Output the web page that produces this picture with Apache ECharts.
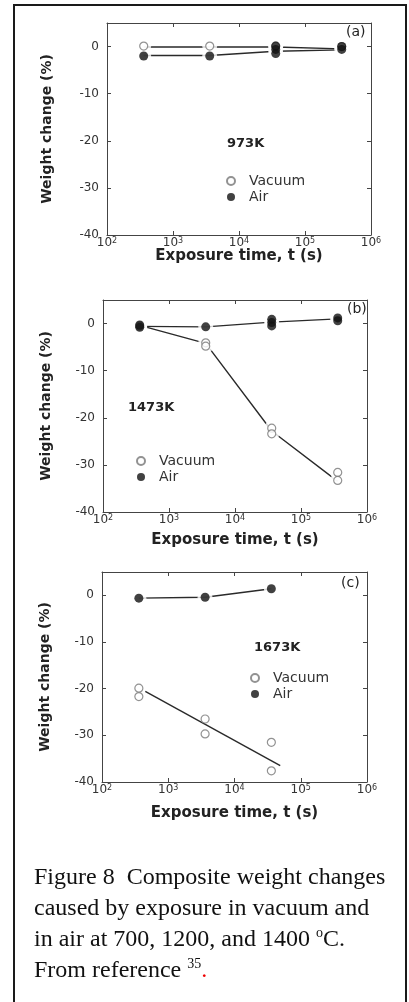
<!DOCTYPE html>
<html>
<head>
<meta charset="utf-8">
<title>Figure 8 - composite weight change</title>
<script src="https://cdn.jsdelivr.net/npm/echarts@6.0.0/dist/echarts.min.js"></script>
<style>
  html, body { margin: 0; padding: 0; background: #fff; overflow: hidden; }
  #frame { position: absolute; left: 13px; top: 4px; width: 390px; height: 1010px; border: 2px solid #1a1a1a; }
  #chart { position: absolute; left: 0; top: 0; width: 409px; height: 1002px; }
  #caption {
    position: absolute; left: 34px; top: 861px;
    font-family: "Liberation Serif", "Times New Roman", serif;
    font-size: 24px; line-height: 31px; color: #111; white-space: nowrap;
  }
  #caption sup { font-size: 14px; line-height: 0; vertical-align: 9px; }
  #caption .red { color: #e00; }
</style>
</head>
<body>
<div id="frame"></div>
<div id="chart"></div>
<div id="caption">Figure 8&nbsp; Composite weight changes<br>caused by exposure in vacuum and<br>in air at 700, 1200, and 1400 <sup>o</sup>C.<br>From reference <sup>35</sup><span class="red">.</span></div>
<script>
// exposure times are 0.1 h, 1 h, 10 h, 100 h  (in s)
var xMin = 100, xMax = 1000000;
var yMin = -40, yMax = 5, yStep = 10;

// (a) 973K
var aVacuumPts = [[360, 0.1], [3600, 0.1], [36000, 0.1], [360000, 0]];
var aAirPts = [[360, -2.0], [3600, -2.0], [36000, 0.1], [36000, -0.6], [36000, -1.5], [360000, 0], [360000, -0.6]];
var aVacuumLine = [[360, -0.1], [3600, -0.1], [36000, -0.1], [360000, -0.5]];
var aAirLine = [[360, -1.9], [3600, -1.9], [36000, -1.0], [360000, -0.7]];

// (b) 1473K
var bVacuumPts = [[360, -0.5], [3600, -4.1], [3600, -4.8], [36000, -22.2], [36000, -23.4], [360000, -31.6], [360000, -33.3]];
var bAirPts = [[360, -0.3], [360, -0.8], [3600, -0.7], [36000, 0.9], [36000, 0.2], [36000, -0.5], [360000, 1.2], [360000, 0.6]];
var bVacuumLine = [[360, -0.4], [3600, -4.2], [36000, -22.8], [360000, -33.5]];
var bAirLine = [[360, -0.6], [3600, -0.7], [36000, 0.3], [360000, 1.0]];

// (c) 1673K
var cVacuumPts = [[360, -19.9], [360, -21.7], [3600, -26.5], [3600, -29.7], [36000, -31.5], [36000, -37.6]];
var cAirPts = [[360, -0.6], [3600, -0.4], [36000, 1.4]];
var cVacuumFit = [[450, -20.6], [49000, -36.5]];
var cAirLine = [[360, -0.6], [3600, -0.4], [36000, 1.4]];

var FONT = 'DejaVu Sans';

var panels = [
  { grid: { left: 107, top: 23, width: 264, height: 212 }, xGap: 14, yGap: 53,
    vac: aVacuumPts, air: aAirPts, vacLine: aVacuumLine, airLine: aAirLine, haloVac: true,
    legend: { left: 226, top: 174 } },
  { grid: { left: 103, top: 300, width: 264, height: 212 }, xGap: 21, yGap: 50,
    vac: bVacuumPts, air: bAirPts, vacLine: bVacuumLine, airLine: bAirLine, haloVac: true,
    legend: { left: 136, top: 454 } },
  { grid: { left: 102, top: 572, width: 265, height: 210 }, xGap: 24, yGap: 50,
    vac: cVacuumPts, air: cAirPts, vacLine: cVacuumFit, airLine: cAirLine, haloVac: false,
    legend: { left: 250, top: 671 } }
];

var axisLine = { show: true, onZero: false, lineStyle: { color: '#444', width: 1 } };
var axisTick = { show: true, inside: true, length: 4, lineStyle: { color: '#444' } };

var grids = [], xAxes = [], yAxes = [], series = [], legends = [];

panels.forEach(function (p, i) {
  grids.push(Object.assign({ outerBoundsMode: 'none', containLabel: false }, p.grid));

  // bottom (labelled) and top (ticks only) axes
  xAxes.push({
    type: 'log', logBase: 10, min: xMin, max: xMax, gridIndex: i, position: 'bottom',
    name: 'Exposure time, t (s)', nameLocation: 'middle', nameGap: p.xGap, nameMoveOverlap: false,
    nameTextStyle: { fontFamily: FONT, fontWeight: 'bold', fontSize: 15, color: '#222' },
    axisLine: axisLine, axisTick: axisTick, splitLine: { show: false }, minorTick: { show: false },
    axisLabel: {
      margin: 2, showMinLabel: true, showMaxLabel: true,
      formatter: function (v) { return '{b|10}{s|' + Math.round(Math.log10(v)) + '}'; },
      rich: {
        b: { fontFamily: FONT, fontSize: 12, color: '#333' },
        s: { fontFamily: FONT, fontSize: 8, color: '#333', verticalAlign: 'top' }
      }
    }
  });
  xAxes.push({
    type: 'log', logBase: 10, min: xMin, max: xMax, gridIndex: i, position: 'top',
    axisLine: axisLine, axisTick: axisTick, axisLabel: { show: false }, splitLine: { show: false }
  });

  // left (labelled) and right (ticks only) axes
  yAxes.push({
    type: 'value', min: yMin, max: yMax, interval: yStep, gridIndex: i, position: 'left',
    name: 'Weight change (%)', nameLocation: 'middle', nameGap: p.yGap, nameMoveOverlap: false,
    nameTextStyle: { fontFamily: FONT, fontWeight: 'bold', fontSize: 14, color: '#222' },
    axisLine: axisLine, axisTick: axisTick, splitLine: { show: false },
    axisLabel: { margin: 8, showMaxLabel: false, fontFamily: FONT, fontSize: 12, color: '#333' }
  });
  yAxes.push({
    type: 'value', min: yMin, max: yMax, interval: yStep, gridIndex: i, position: 'right',
    axisLine: axisLine, axisTick: axisTick, axisLabel: { show: false }, splitLine: { show: false }
  });

  var xi = 2 * i, yi = 2 * i;

  series.push({
    type: 'line', name: 'vacuum line', xAxisIndex: xi, yAxisIndex: yi, data: p.vacLine,
    symbol: 'none', silent: true, z: 2, lineStyle: { color: '#2a2a2a', width: 1.4 }
  });
  series.push({
    type: 'line', name: 'air line', xAxisIndex: xi, yAxisIndex: yi, data: p.airLine,
    symbol: 'none', silent: true, z: 2, lineStyle: { color: '#2a2a2a', width: 1.4 }
  });
  // white halo under the markers so lines stop short of them
  series.push({
    type: 'scatter', name: 'halo', xAxisIndex: xi, yAxisIndex: yi,
    data: p.haloVac ? p.air.concat(p.vac) : p.air,
    symbolSize: 15, silent: true, z: 3, itemStyle: { color: '#fff' }
  });
  series.push({
    type: 'scatter', name: 'Vacuum', xAxisIndex: xi, yAxisIndex: yi, data: p.vac,
    symbol: 'circle', symbolSize: 8, z: 4,
    itemStyle: { color: '#fff', borderColor: '#777', borderWidth: 1.2 }
  });
  series.push({
    type: 'scatter', name: 'Air', xAxisIndex: xi, yAxisIndex: yi, data: p.air,
    symbol: 'circle', symbolSize: 9, z: 5, itemStyle: { color: '#111' }
  });

  legends.push({
    left: p.legend.left, top: p.legend.top, orient: 'vertical', selectedMode: false,
    itemWidth: 26, itemHeight: 8, itemGap: 2, padding: 0,
    data: [{ name: 'Vacuum', icon: 'circle' }, { name: 'Air', icon: 'circle' }],
    textStyle: { fontFamily: FONT, fontSize: 14, lineHeight: 14, color: '#333' }
  });
});

function note(text, left, top, bold) {
  return {
    type: 'text', left: left, top: top, silent: true,
    style: { text: text, fill: '#222', font: (bold ? 'bold 13px ' : '14px ') + '"' + FONT + '"' }
  };
}

var chart = echarts.init(document.getElementById('chart'), null, { renderer: 'canvas' });
chart.setOption({
  animation: false,
  backgroundColor: 'transparent',
  grid: grids,
  xAxis: xAxes,
  yAxis: yAxes,
  legend: legends,
  series: series,
  graphic: [
    note('973K', 227, 137, true),
    note('(a)', 346, 25, false),
    note('1473K', 128, 401, true),
    note('(b)', 347, 302, false),
    note('1673K', 254, 641, true),
    note('(c)', 341, 576, false)
  ]
});
</script>
</body>
</html>
